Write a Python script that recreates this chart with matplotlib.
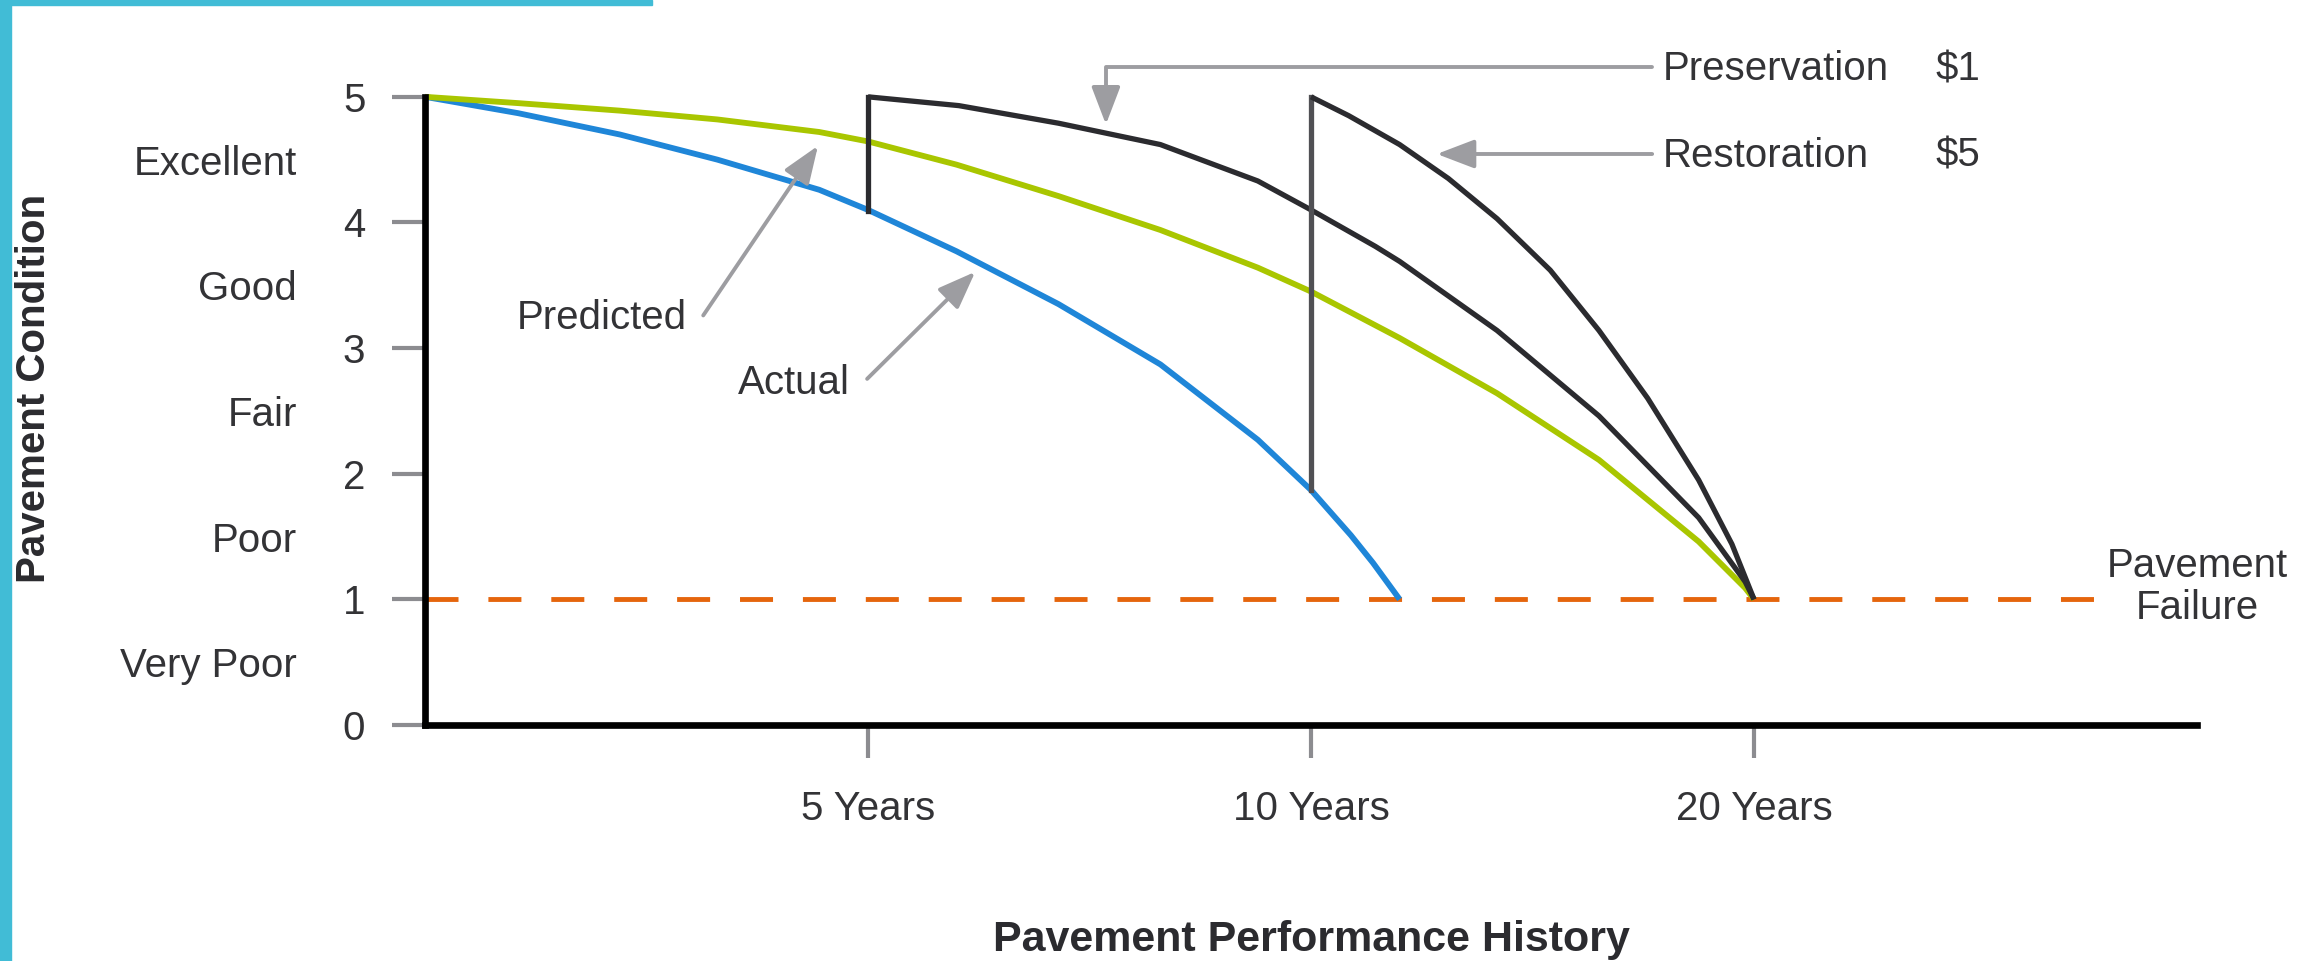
import matplotlib
matplotlib.use('Agg')
import matplotlib.pyplot as plt
from matplotlib.patches import Rectangle

plt.rcParams['font.family'] = ['Liberation Sans', 'DejaVu Sans']

# x runs on an ordinal scale: 0 = new, 1 = 5 years, 2 = 10 years, 3 = 20 years
x_ticks = [1, 2, 3]
x_labels = ['5 Years', '10 Years', '20 Years']
y_ticks = [0, 1, 2, 3, 4, 5]
cond_pos = [0.5, 1.5, 2.5, 3.5, 4.5]
cond_labels = ['Very Poor', 'Poor', 'Fair', 'Good', 'Excellent']

# Actual deterioration (blue)
actual_x = [0, 0.21, 0.44, 0.66, 0.89, 1.0, 1.2, 1.43, 1.66, 1.88, 2.0, 2.09, 2.14, 2.2]
actual_y = [5.0, 4.87, 4.70, 4.50, 4.26, 4.10, 3.77, 3.35, 2.87, 2.27, 1.87, 1.51, 1.29, 1.0]

# Predicted deterioration (green)
pred_x = [0, 0.21, 0.44, 0.66, 0.89, 1.0, 1.2, 1.43, 1.66, 1.88, 2.0, 2.2, 2.42, 2.65, 2.875, 2.98, 3.0]
pred_y = [5.0, 4.95, 4.89, 4.82, 4.72, 4.645, 4.46, 4.21, 3.94, 3.64, 3.45, 3.08, 2.64, 2.11, 1.46, 1.09, 1.0]

# Preservation at 5 years (black)
pres_x = [1.0, 1.0, 1.205, 1.43, 1.66, 1.88, 2.0, 2.145, 2.2, 2.42, 2.65, 2.875, 2.98, 3.0]
pres_y = [4.09, 5.0, 4.93, 4.79, 4.62, 4.33, 4.10, 3.81, 3.69, 3.14, 2.46, 1.65, 1.14, 1.0]

# Restoration at 10 years (black)
rest_x = [2.0, 2.0, 2.085, 2.2, 2.31, 2.42, 2.54, 2.65, 2.76, 2.875, 2.95, 3.0]
rest_y = [1.87, 5.0, 4.85, 4.62, 4.35, 4.03, 3.62, 3.14, 2.60, 1.95, 1.44, 1.0]

failure_level = 1.0
failure_end = 3.77

fig = plt.figure(figsize=(23.2, 9.61), dpi=100)
ax = fig.add_axes([0.1832, 0.2456, 0.7638, 0.7190])

# cyan frame pieces
fig.patches.append(Rectangle((0, 0), 11 / 2320, 1, transform=fig.transFigure,
                             color='#41bcd6', zorder=0))
fig.patches.append(Rectangle((0, 1 - 5 / 961), 652 / 2320, 5 / 961,
                             transform=fig.transFigure, color='#41bcd6', zorder=0))

lw = 4.2
curve = dict(solid_joinstyle='round', solid_capstyle='butt')
ax.plot([0, failure_end], [failure_level, failure_level], color='#e5650c', lw=3.5,
        dashes=(6.79, 6.15), zorder=1)
ax.plot(actual_x, actual_y, color='#1f86d8', lw=lw, zorder=2, **curve)
ax.plot(pred_x, pred_y, color='#a9c600', lw=lw, zorder=3, **curve)
ax.plot(pres_x[:2], pres_y[:2], color='#2b2b2f', lw=3.8, zorder=4)
ax.plot(pres_x[1:], pres_y[1:], color='#2b2b2f', lw=3.8, zorder=4, **curve)
ax.plot(rest_x[:2], rest_y[:2], color='#505054', lw=3.8, zorder=4)
ax.plot(rest_x[1:], rest_y[1:], color='#2b2b2f', lw=3.8, zorder=4, **curve)

ax.set_xlim(0, 4)
ax.set_ylim(0, 5.5)

for s in ['top', 'right']:
    ax.spines[s].set_visible(False)
ax.spines['left'].set_bounds(0, 5)
ax.spines['bottom'].set_bounds(0, 4)
for s in ['left', 'bottom']:
    ax.spines[s].set_linewidth(4.8)
    ax.spines[s].set_color('black')
    ax.spines[s].set_zorder(5)

ax.set_xticks(x_ticks, x_labels)
ax.set_yticks(y_ticks, [str(v) for v in y_ticks])
ax.set_yticks(cond_pos, cond_labels, minor=True)
ax.tick_params(axis='both', which='major', direction='out', length=24, width=3,
               color='#8c8c90', labelsize=29, labelcolor='#333336', pad=19)
ax.tick_params(axis='x', which='major', pad=23)
ax.tick_params(axis='y', which='minor', length=0, labelsize=29,
               labelcolor='#333336', pad=92)

ax.set_xlabel('Pavement Performance History', fontsize=31, fontweight='bold',
              color='#2b2b2f', va='center')
ax.xaxis.set_label_coords(0.5, -0.311)
ax.set_ylabel('Pavement Condition', fontsize=29, fontweight='bold',
              color='#2b2b2f', va='center')
ax.yaxis.set_label_coords(-0.2205, 0.4877)

txt = dict(fontsize=29, color='#333336', va='center')
arrow_gray = '#9d9da1'
head = dict(arrowstyle='-|>,head_length=1.1,head_width=0.42', mutation_scale=21,
            color=arrow_gray, lw=2.8, shrinkA=0, shrinkB=0)

# Preservation / Restoration callouts
ax.text(2.795, 5.22, 'Preservation', ha='left', **txt)
ax.text(3.409, 5.22, r'\$1', ha='left', **txt)
ax.text(2.795, 4.53, 'Restoration', ha='left', **txt)
ax.text(3.409, 4.53, r'\$5', ha='left', **txt)
ax.annotate('', xy=(1.537, 4.78), xytext=(2.77, 5.24), annotation_clip=False,
            arrowprops=dict(connectionstyle='angle,angleA=0,angleB=90,rad=0', **head))
ax.annotate('', xy=(2.284, 4.545), xytext=(2.77, 4.545), annotation_clip=False,
            arrowprops=head)

# Predicted / Actual callouts
ax.text(0.591, 3.24, 'Predicted', ha='right', **txt)
ax.annotate('', xy=(0.887, 4.61), xytext=(0.628, 3.26), arrowprops=head)
ax.text(0.959, 2.72, 'Actual', ha='right', **txt)
ax.annotate('', xy=(1.242, 3.607), xytext=(0.998, 2.755), arrowprops=head)

ax.text(4.0, 1.1, 'Pavement\nFailure', ha='center', linespacing=1.15,
        clip_on=False, **txt)

fig.savefig('out.png', dpi=100)
